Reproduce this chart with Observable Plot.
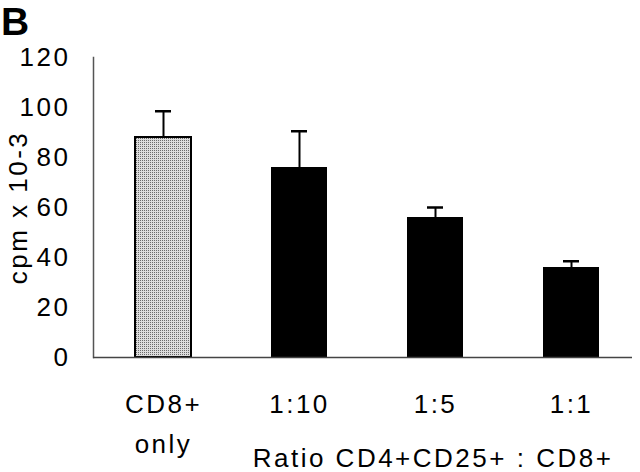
<!DOCTYPE html>
<html>
<head>
<meta charset="utf-8">
<script src="https://cdn.jsdelivr.net/npm/d3@7"></script>
<script src="https://cdn.jsdelivr.net/npm/@observablehq/plot@0.6"></script>
<style>
  html, body { margin: 0; padding: 0; background: #fff; }
  #wrap { position: relative; width: 640px; height: 472px; font-family: "Liberation Sans", Arial, sans-serif; }
  #panel { position: absolute; left: 1px; top: 0px; font-weight: bold; font-size: 39px; line-height: 44px; color: #000; z-index: 2; }
  #wrap svg text { letter-spacing: 2.5px; }
</style>
</head>
<body>
<div id="wrap"></div>
<script>
const categories = ["CD8+\nonly", "1:10", "1:5", "1:1"];
const values = [88, 76, 56, 36];
const errors = [10.5, 14.5, 4, 2.5];
const yTicks = [0, 20, 40, 60, 80, 100, 120];
const yLabel = "cpm x 10-3";
const xLabel = "Ratio CD4+CD25+ : CD8+";
const panelLabel = "B";

const data = categories.map((c, i) => ({cat: c, value: values[i], err: errors[i], control: i === 0}));

const font = "'Liberation Sans', Arial, sans-serif";
const fs = 26;

const svg = Plot.plot({
  width: 640,
  height: 472,
  marginLeft: 93,
  marginRight: 0,
  marginTop: 57,
  marginBottom: 115,
  style: {fontFamily: font, color: "#000", background: "transparent"},
  x: {domain: categories, paddingInner: 0.59, paddingOuter: 0.295, label: null, axis: null},
  y: {domain: [0, 120], label: null, axis: null},
  marks: [
    Plot.barY(data, {filter: d => d.control, x: "cat", y: "value", fill: "url(#stipple)", stroke: "#000", strokeWidth: 2}),
    Plot.barY(data, {filter: d => !d.control, x: "cat", y: "value", fill: "#000"}),
    Plot.ruleX(data, {x: "cat", y1: "value", y2: d => d.value + d.err, stroke: "#000", strokeWidth: 2}),
    Plot.tickY(data, {x: "cat", y: d => d.value + d.err, stroke: "#000", strokeWidth: 2.5, insetLeft: 20, insetRight: 20}),
    Plot.frame({anchor: "left", stroke: "#555", strokeWidth: 1.5}),
    Plot.ruleY([0], {stroke: "#444", strokeWidth: 1.5, insetRight: 8}),
    Plot.axisY({ticks: yTicks, tickSize: 0, tickPadding: 23, fontSize: fs, label: null, textAnchor: "end"}),
    Plot.axisX({tickSize: 0, tickPadding: 27, fontSize: fs, lineHeight: 1.54, label: null}),
    Plot.text([yLabel], {frameAnchor: "left", textAnchor: "middle", rotate: -90, dx: -75, fontSize: fs, lineAnchor: "middle"}),
    Plot.text([xLabel], {frameAnchor: "bottom", textAnchor: "middle", dx: 66, dy: 109, fontSize: fs, lineAnchor: "bottom"})
  ]
});

const defs = d3.select(svg).insert("defs", ":first-child");
const pat = defs.append("pattern").attr("id", "stipple").attr("patternUnits", "userSpaceOnUse").attr("width", 2).attr("height", 2);
pat.append("rect").attr("width", 2).attr("height", 2).attr("fill", "#dcdcdc");
pat.append("rect").attr("width", 1).attr("height", 1).attr("fill", "#6a6a6a");

const wrap = document.getElementById("wrap");
svg.style.position = "absolute";
svg.style.left = "0";
svg.style.top = "0";
wrap.appendChild(svg);
const panel = document.createElement("div");
panel.id = "panel";
panel.textContent = panelLabel;
wrap.appendChild(panel);
</script>
</body>
</html>
